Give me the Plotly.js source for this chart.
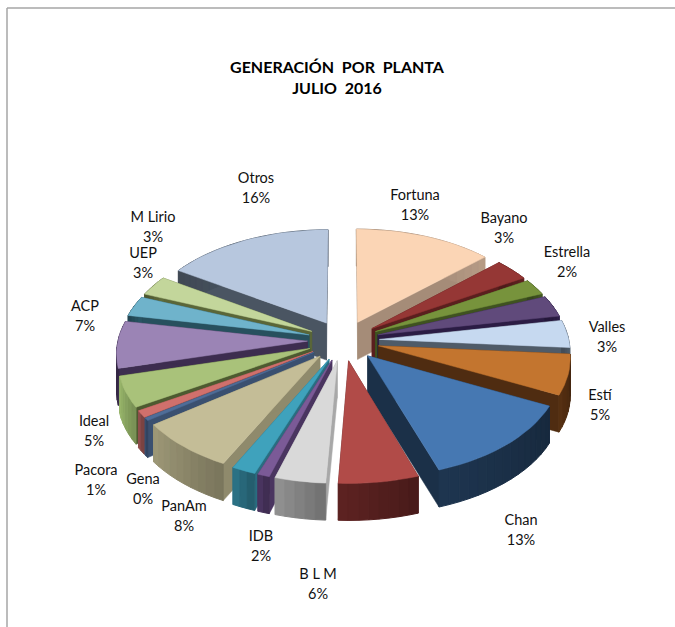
<!DOCTYPE html>
<html>
<head>
<meta charset="utf-8">
<script src="https://cdn.plot.ly/plotly-3.0.1.min.js"></script>
<style>html,body{margin:0;padding:0;background:#fff}</style>
</head>
<body>
<div id="chart" style="width:675px;height:627px"></div>
<script>
// Data (share of generation, clockwise from 12 o'clock)
const categories = ["Fortuna","Bayano","Estrella","","Valles","Estí","Chan","B L M","","","IDB","PanAm","Gena","Pacora","Ideal","ACP","UEP","M Lirio","Otros"];
const shares     = [13.0,3.3,2.4,3.2,4.1,6.0,12.4,6.0,3.8,0.9,1.8,7.5,0.4,1.0,4.6,7.0,3.0,3.0,15.8];
const pctLabels  = ["13%","3%","2%","","3%","5%","13%","6%","","","2%","8%","0%","1%","5%","7%","3%","3%","16%"];

// Styles
const topColors  = ["#fbd5b5","#953735","#77933c","#604a7b","#c6d9f0","#c3752f","#4678b2","#b14b48","#d9d9d9","#7b5a97","#3fa2bc","#c4bd97","#4f6d98","#d0706c","#a9c27a","#9b84b5","#6fb3cb","#c3d69b","#b7c7de"];
const sideColors = ["#a58c78","#5a1f1e","#3f5220","#2b1c44","#4f5b68","#4f2c11","#1b3048","#551f1e","#a8a8a8","#4a3560","#2a6d80","#8f8a6c","#3a5070","#8f4e4c","#4d5a30","#3d2d4f","#27505e","#5a6638","#4a5562"];
const rimColors  = ["#a58c78","#5a1f1e","#3f5220","#2b1c44","#4f5b68","#4f2c11","#1b3048","#551f1e","#868686","#4a3560","#2a6d80","#8f8a6c","#3a5070","#8f4e4c","#8eaa64","#3d2d4f","#27505e","#5a6638","#4a5562"];

// Label anchor points (x, y of first line)
const labelX = [415,504,567,0,607,600,521,318,0,0,261,184,143,96,94,85,143,153,256];
const labelY = [196,219,253,0,328,396,521,575,0,0,537,507,480,471,422,307,254,218,179];

// Projection of the tilted pie
const cx=343.5, cy=340.5, Rx=189.5, Ry=106, persp=0.10, pull=0.19, depth=37;
const total = shares.reduce((a,b)=>a+b,0);
function proj(u,v){const s=1/(1-persp*v);return [cx+Rx*u*s, cy+Ry*v*s];}
function shade(hex,f){
  const n=parseInt(hex.slice(1),16);
  const c=[n>>16,(n>>8)&255,n&255].map(x=>Math.max(0,Math.min(255,Math.round(x*f))));
  return `rgb(${c[0]},${c[1]},${c[2]})`;
}
function poly(pts,color,w){
  return {type:"scatter",mode:"lines",x:pts.map(p=>p[0]).concat(pts[0][0]),y:pts.map(p=>p[1]).concat(pts[0][1]),
    fill:"toself",fillcolor:color,line:{color:color,width:w===undefined?0.5:w},hoverinfo:"skip",showlegend:false};
}
let acc=0;
const slices=shares.map((val,i)=>{
  const a0=acc/total*2*Math.PI; acc+=val; const a1=acc/total*2*Math.PI;
  const mid=(a0+a1)/2;
  const ox=pull*Math.sin(mid), oy=-pull*Math.cos(mid);
  const tip=proj(ox,oy);
  const n=Math.max(2,Math.ceil((a1-a0)/(Math.PI/60)));
  const arc=[];
  for(let k=0;k<=n;k++){const t=a0+(a1-a0)*k/n;arc.push(proj(ox+Math.sin(t),oy-Math.cos(t)));}
  return {i,tip,arc,order:-Math.cos(mid)};
});
slices.sort((a,b)=>a.order-b.order);
const down=p=>[p[0],p[1]+depth];
const traces=[];
slices.forEach(s=>{
  const side=sideColors[s.i], rim=rimColors[s.i], top=topColors[s.i];
  const first=s.arc[0], last=s.arc[s.arc.length-1];
  traces.push(poly([s.tip,first,down(first),down(s.tip)],side));
  traces.push(poly([s.tip,last,down(last),down(s.tip)],side));
  for(let k=s.arc.length-2;k>=0;k--){
    const a=s.arc[k], b=s.arc[k+1];
    const f=0.86+0.26*k/(s.arc.length-1);
    traces.push(poly([a,b,down(b),down(a)],shade(rim,f),1));
  }
  traces.push(poly([s.tip].concat(s.arc),top));
});
const font={family:"Lato, Carlito, sans-serif",size:14.5,color:"#111"};
const idx=categories.map((c,i)=>i).filter(i=>categories[i]!=="");
traces.push({type:"scatter",mode:"text",x:idx.map(i=>labelX[i]),y:idx.map(i=>labelY[i]),text:idx.map(i=>categories[i]),
  textposition:"middle center",textfont:font,hoverinfo:"skip",showlegend:false,cliponaxis:false});
traces.push({type:"scatter",mode:"text",x:idx.map(i=>labelX[i]),y:idx.map(i=>labelY[i]+20),text:idx.map(i=>pctLabels[i]),
  textposition:"middle center",textfont:font,hoverinfo:"skip",showlegend:false,cliponaxis:false});

const hidden={visible:false,fixedrange:true};
const layout={
  width:675,height:627,margin:{l:0,r:0,t:0,b:0},
  paper_bgcolor:"#fff",plot_bgcolor:"#fff",showlegend:false,
  title:{text:"GENERACIÓN\u00a0\u00a0POR\u00a0\u00a0PLANTA<br>JULIO\u00a0\u00a02016",x:337/675,xanchor:"center",y:1-73/627,yanchor:"top",
    font:{family:"Lato, Carlito, sans-serif",size:16,color:"#000",weight:"bold"}},
  xaxis:Object.assign({range:[0,675]},hidden),
  yaxis:Object.assign({range:[627,0]},hidden),
  shapes:[
    {type:"line",xref:"x",yref:"y",x0:7,x1:7,y0:8,y1:627,line:{color:"#a6a6a6",width:1.5}},
    {type:"line",xref:"x",yref:"y",x0:7,x1:675,y0:8,y1:8,line:{color:"#a6a6a6",width:1.5}}
  ]
};
Plotly.newPlot("chart",traces,layout,{displayModeBar:false,staticPlot:true});
</script>
</body>
</html>
